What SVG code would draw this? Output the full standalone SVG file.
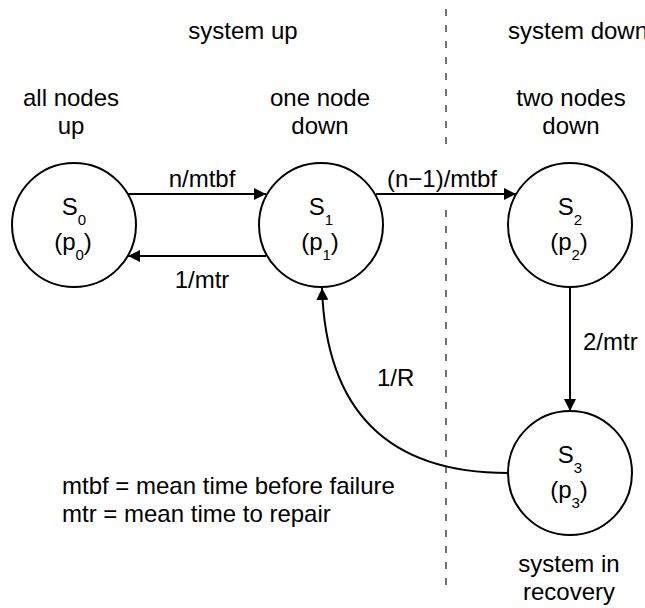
<svg xmlns="http://www.w3.org/2000/svg" width="645" height="608" viewBox="0 0 645 608">
<defs>
<marker id="arr" viewBox="0 0 12 12" refX="12" refY="6" markerWidth="12" markerHeight="12" markerUnits="userSpaceOnUse" orient="auto">
<path d="M0,0 L12,6 L0,12 z" fill="#000"/>
</marker>
<style>
text{font-family:"Liberation Sans",Arial,sans-serif;font-size:24px;fill:#000}
.c{text-anchor:middle}
.node circle{fill:#fff;stroke:#000;stroke-width:2}
.sub{font-size:15px}
.edge{fill:none;stroke:#000;stroke-width:2;marker-end:url(#arr)}
.div{stroke:#444;stroke-width:1.5;stroke-dasharray:7 9}
</style>
</defs>
<rect width="645" height="608" fill="#fff"/>
<line class="div" x1="446" y1="9" x2="446" y2="150"/>
<line class="div" x1="446" y1="210" x2="446" y2="588"/>
<g id="labels">
<text class="c" x="243" y="39">system up</text>
<text x="508" y="39">system down</text>
<text class="c" x="71" y="106">all nodes</text>
<text class="c" x="71" y="134">up</text>
<text class="c" x="320" y="106">one node</text>
<text class="c" x="320" y="134">down</text>
<text class="c" x="571" y="106">two nodes</text>
<text class="c" x="571" y="134">down</text>
<text class="c" x="569" y="572">system in</text>
<text class="c" x="569" y="600">recovery</text>
<text x="62" y="494">mtbf = mean time before failure</text>
<text x="62" y="522">mtr = mean time to repair</text>
</g>
<g id="connectors">
<line class="edge" x1="128" y1="194" x2="266" y2="194"/>
<line class="edge" x1="266" y1="256" x2="128" y2="256"/>
<line class="edge" x1="376" y1="194" x2="516" y2="194"/>
<line class="edge" x1="570" y1="287" x2="570" y2="411"/>
<path class="edge" d="M508,473 Q328,473 322,288"/>
<text class="c" x="202" y="187">n/mtbf</text>
<text class="c" x="202" y="288">1/mtr</text>
<text class="c" x="442" y="187">(n−1)/mtbf</text>
<text x="583" y="350">2/mtr</text>
<text x="377" y="386">1/R</text>
</g>
<g id="S0" class="node">
<circle cx="74" cy="225" r="62"/>
<text class="c" x="74" y="215">S<tspan class="sub" dy="10">0</tspan></text>
<text class="c" x="73" y="250">(p<tspan class="sub" dy="10">0</tspan><tspan dy="-10">)</tspan></text>
</g>
<g id="S1" class="node">
<circle cx="321" cy="225" r="62"/>
<text class="c" x="321" y="215">S<tspan class="sub" dy="10">1</tspan></text>
<text class="c" x="320" y="250">(p<tspan class="sub" dy="10">1</tspan><tspan dy="-10">)</tspan></text>
</g>
<g id="S2" class="node">
<circle cx="570" cy="225" r="62"/>
<text class="c" x="570" y="215">S<tspan class="sub" dy="10">2</tspan></text>
<text class="c" x="569" y="250">(p<tspan class="sub" dy="10">2</tspan><tspan dy="-10">)</tspan></text>
</g>
<g id="S3" class="node">
<circle cx="570" cy="473" r="62"/>
<text class="c" x="570" y="463">S<tspan class="sub" dy="10">3</tspan></text>
<text class="c" x="569" y="498">(p<tspan class="sub" dy="10">3</tspan><tspan dy="-10">)</tspan></text>
</g>
</svg>
